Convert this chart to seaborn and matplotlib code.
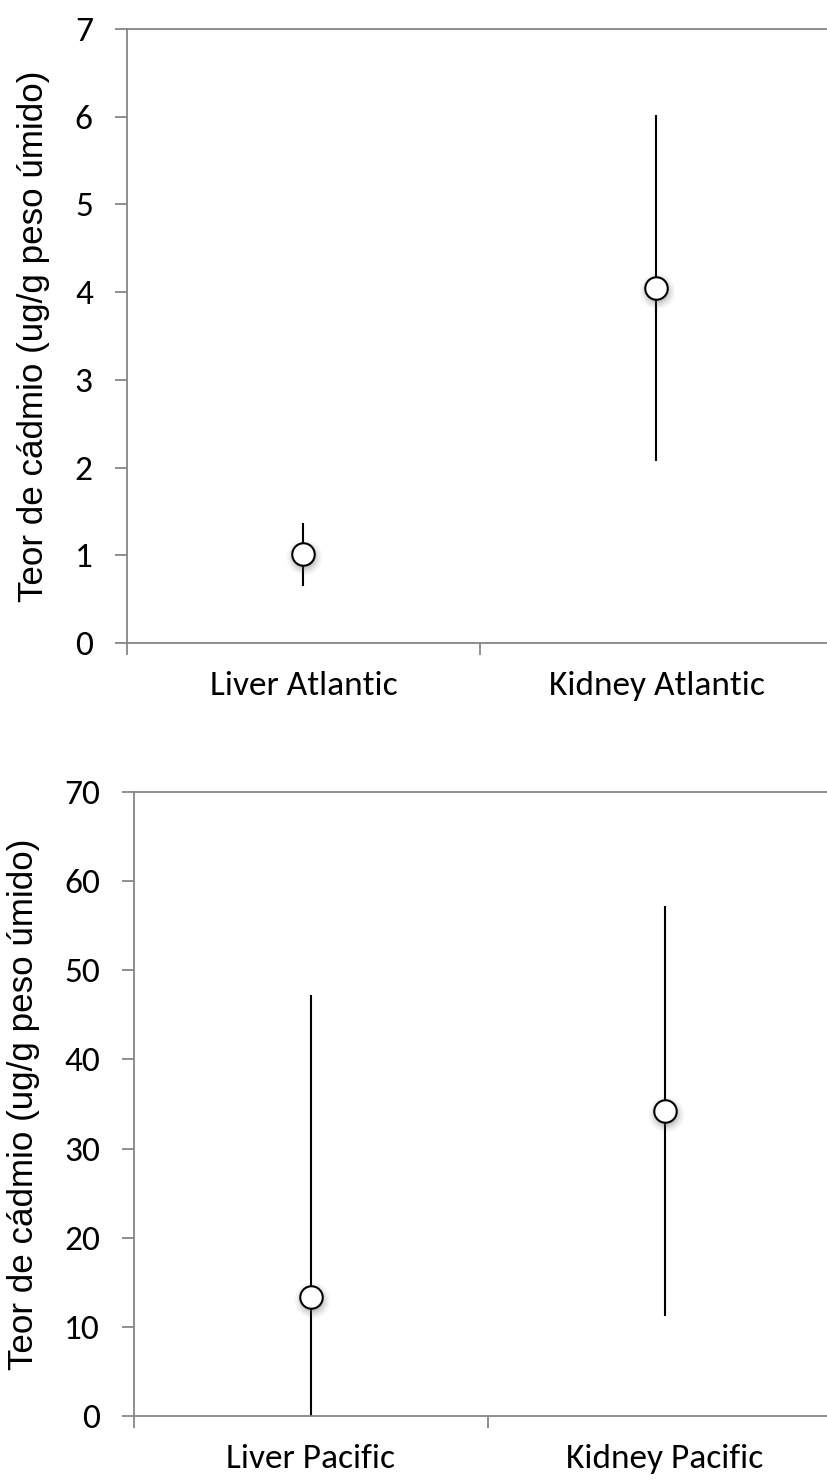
import numpy as np
import pandas as pd
import matplotlib
matplotlib.use("Agg")
import matplotlib.pyplot as plt
import seaborn as sns
from matplotlib import font_manager
from matplotlib.transforms import offset_copy

# Cadmium content per tissue and ocean (mean and standard deviation)
atlantic_labels = ["Liver Atlantic", "Kidney Atlantic"]
atlantic_mean = [1.01, 4.05]
atlantic_sd = [0.355, 1.97]
atlantic_yticks = [0, 1, 2, 3, 4, 5, 6, 7]

pacific_labels = ["Liver Pacific", "Kidney Pacific"]
pacific_mean = [13.4, 34.2]
pacific_sd = [33.8, 23.0]
pacific_yticks = [0, 10, 20, 30, 40, 50, 60, 70]

y_label = "Teor de cádmio (ug/g peso úmido)"

sns.set_theme(style="white")
available = {f.name for f in font_manager.fontManager.ttflist}
tick_font = next((f for f in ["Carlito", "Lato", "Open Sans"] if f in available), "DejaVu Sans")
plt.rcParams["font.family"] = [tick_font, "DejaVu Sans"]

AXIS_GRAY = "#868686"
TICK_SIZE = 25.5
W, H, DPI = 827, 1484, 100
fig = plt.figure(figsize=(W / DPI, H / DPI), dpi=DPI, facecolor="white")


def px_axes(left, top, width, height):
    return fig.add_axes([left / W, 1 - (top + height) / H, width / W, height / H])


def draw_panel(ax, labels, mean, sd, yticks, label_x, left_px, width_px):
    df = pd.DataFrame({"pos": np.arange(len(labels)), "mean": mean, "sd": sd})

    ax.errorbar(df["pos"], df["mean"], yerr=df["sd"], fmt="none",
                ecolor="black", elinewidth=1.5, capsize=0, zorder=2)

    # soft drop shadow under each marker
    shadow = offset_copy(ax.transData, fig=fig, x=1, y=-3, units="dots")
    for grow, alpha in [(9, 0.05), (6, 0.07), (3, 0.10), (0, 0.14)]:
        ax.scatter(df["pos"], df["mean"], s=(16.5 + grow) ** 2, color="0.35",
                   alpha=alpha, linewidths=0, transform=shadow, zorder=3)

    sns.scatterplot(data=df, x="pos", y="mean", ax=ax, s=262, color="white",
                    edgecolor="black", linewidth=1.5, zorder=4, legend=False)

    ax.set_xlim(-0.5, len(labels) - 0.5)
    ax.set_ylim(yticks[0], yticks[-1])
    ax.set_xticks(df["pos"])
    ax.set_xticklabels(labels)
    ax.set_xticks(np.arange(len(labels) + 1) - 0.5, minor=True)
    ax.set_yticks(yticks)
    ax.set_xlabel("")
    ax.grid(False)
    ax.set_facecolor("white")

    ax.tick_params(axis="x", which="major", length=0, pad=20,
                   labelsize=TICK_SIZE, labelcolor="black")
    ax.tick_params(axis="x", which="minor", length=8.6, width=1.3,
                   color=AXIS_GRAY, direction="out", bottom=True)
    ax.tick_params(axis="y", which="major", length=8.6, width=1.3,
                   color=AXIS_GRAY, direction="out", left=True, pad=16,
                   labelsize=TICK_SIZE, labelcolor="black")

    for side in ["left", "bottom", "top"]:
        ax.spines[side].set_visible(True)
        ax.spines[side].set_color(AXIS_GRAY)
        ax.spines[side].set_linewidth(1.3)
    ax.spines["right"].set_visible(False)

    ax.set_ylabel(y_label, fontsize=25.2, family=["Liberation Sans", "DejaVu Sans"],
                  va="center", color="black")
    ax.yaxis.set_label_coords((label_x - left_px) / width_px, 0.5)


ax_top = px_axes(127, 29, 706, 614)
draw_panel(ax_top, atlantic_labels, atlantic_mean, atlantic_sd, atlantic_yticks,
           label_x=34, left_px=127, width_px=706)

ax_bottom = px_axes(134, 792, 708, 624)
draw_panel(ax_bottom, pacific_labels, pacific_mean, pacific_sd, pacific_yticks,
           label_x=24, left_px=134, width_px=708)

fig.savefig("out.png", dpi=DPI, facecolor="white")
